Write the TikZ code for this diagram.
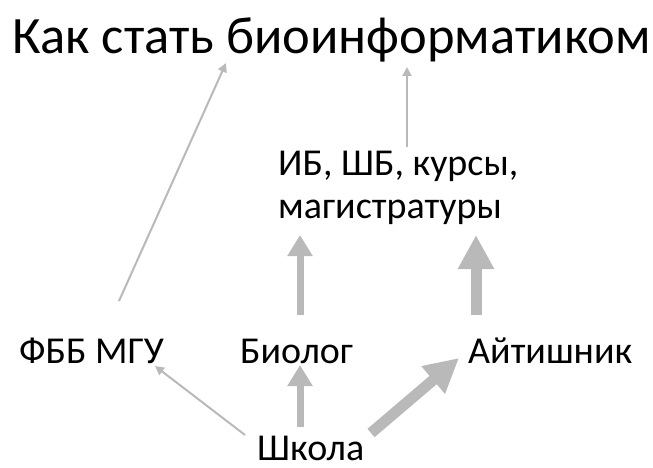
\documentclass[tikz,border=0pt]{standalone}
\usepackage{fontspec}
\setmainfont{Carlito}
\usetikzlibrary{arrows.meta}
\definecolor{arrowgray}{RGB}{185,185,185}
\tikzset{
  lbl/.style={anchor=base west, inner sep=0pt, font=\fontsize{38}{43}\selectfont},
  ttl/.style={anchor=base west, inner sep=0pt, font=\fontsize{52.5}{60}\selectfont},
  thinarr/.style={draw=arrowgray, line width=2pt, -{Triangle[width=9pt,length=9pt]}},
  midarr/.style={draw=arrowgray, line width=7pt, -{Triangle[width=24pt,length=21pt]}},
  thickarr/.style={draw=arrowgray, line width=11pt, -{Triangle[width=34pt,length=34pt]}},
}
\begin{document}
\begin{tikzpicture}[x=1pt,y=-1pt]
\useasboundingbox (0,0) rectangle (653,468);
\node[ttl] (title) at (12,54) {Как стать биоинформатиком};
\node[lbl, align=left, anchor=north west] (ib) at (278,151) {ИБ, ШБ, курсы,\\магистратуры};
\node[lbl] (fbb) at (19,363) {ФББ МГУ};
\node[lbl] (bio) at (240,363) {Биолог};
\node[lbl] (it) at (468,363) {Айтишник};
\node[lbl] (school) at (257,460) {Школа};
% arrow end points
\coordinate (a1s) at (119,301); \coordinate (a1e) at (226,63);
\coordinate (a2s) at (407,147); \coordinate (a2e) at (407,67);
\coordinate (a3s) at (300,315); \coordinate (a3e) at (300,235);
\coordinate (a4s) at (476,315); \coordinate (a4e) at (476,235);
\coordinate (a5s) at (245,435); \coordinate (a5e) at (155,366);
\coordinate (a6s) at (300,427); \coordinate (a6e) at (300,365);
\coordinate (a7s) at (371,433); \coordinate (a7e) at (459,358);
\draw[thinarr] (a1s) -- (a1e);
\draw[thinarr] (a2s) -- (a2e);
\draw[midarr] (a3s) -- (a3e);
\draw[thickarr] (a4s) -- (a4e);
\draw[thinarr] (a5s) -- (a5e);
\draw[midarr] (a6s) -- (a6e);
\draw[thickarr] (a7s) -- (a7e);
\end{tikzpicture}
\end{document}
